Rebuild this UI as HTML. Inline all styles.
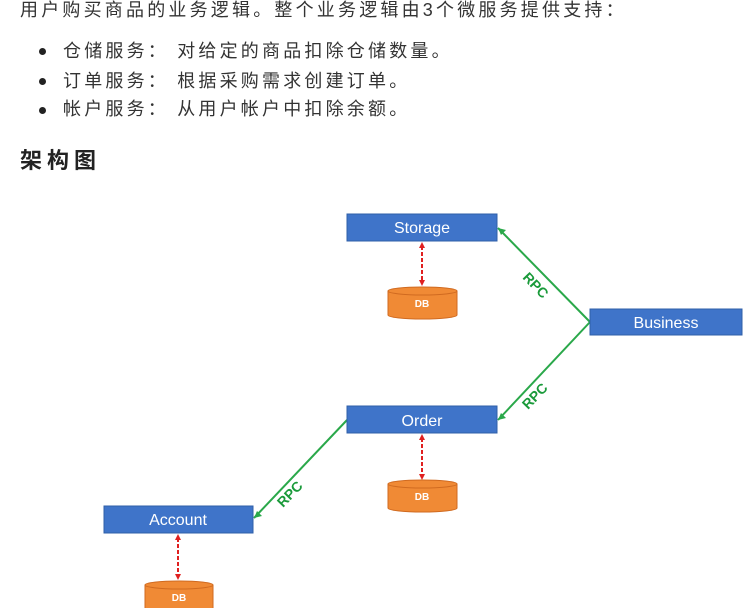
<!DOCTYPE html>
<html><head><meta charset="utf-8"><style>
body{margin:0;width:745px;height:608px;background:#fff;overflow:hidden;position:relative;font-family:"Liberation Sans","Noto Sans CJK SC",sans-serif;color:#333}
.t{position:absolute;font-size:18px;letter-spacing:3.2px;white-space:nowrap;line-height:20px}
.b{position:absolute;width:7px;height:7px;border-radius:50%;background:#222}
</style></head><body>
<div class="t" style="left:20px;top:0px">用户购买商品的业务逻辑。整个业务逻辑由3个微服务提供支持：</div>
<div class="b" style="left:39px;top:48px"></div><div class="t" style="left:63px;top:41px">仓储服务： 对给定的商品扣除仓储数量。</div>
<div class="b" style="left:39px;top:78px"></div><div class="t" style="left:63px;top:71px">订单服务： 根据采购需求创建订单。</div>
<div class="b" style="left:39px;top:107px"></div><div class="t" style="left:63px;top:99px">帐户服务： 从用户帐户中扣除余额。</div>
<div class="t" style="left:20px;top:148px;font-size:22px;letter-spacing:5px;font-weight:bold;color:#222;line-height:26px">架构图</div>
<svg width="745" height="608" style="position:absolute;left:0;top:0" font-family="Liberation Sans, sans-serif">
<g stroke="#2aa84a" stroke-width="2" fill="none">
<line x1="498" y1="228" x2="590" y2="322"/>
<line x1="590" y1="322" x2="498" y2="420"/>
<line x1="347" y1="420" x2="254" y2="518"/>
</g>
<g fill="#2aa84a">
<polygon points="498,228 506,230 501,235"/>
<polygon points="498,420 501,413 506,418"/>
<polygon points="254,518 257,511 262,516"/>
</g>
<g fill="#1a9a3a" font-size="14" font-weight="bold">
<text transform="translate(522,278) rotate(46)">RPC</text>
<text transform="translate(528,410) rotate(-46)">RPC</text>
<text transform="translate(283,508) rotate(-46)">RPC</text>
</g>
<g fill="#3f74c9" stroke="#2f5fa8">
<rect x="347" y="214" width="150" height="27"/>
<rect x="590" y="309" width="152" height="26"/>
<rect x="347" y="406" width="150" height="27"/>
<rect x="104" y="506" width="149" height="27"/>
</g>
<g fill="#fff" font-size="16" text-anchor="middle">
<text x="422" y="233">Storage</text>
<text x="666" y="328">Business</text>
<text x="422" y="426">Order</text>
<text x="178" y="525">Account</text>
</g>
<g stroke="#e02020" stroke-width="2" stroke-dasharray="4,2">
<line x1="422" y1="246" x2="422" y2="283"/>
<line x1="422" y1="438" x2="422" y2="477"/>
<line x1="178" y1="538" x2="178" y2="577"/>
</g>
<g fill="#e02020">
<polygon points="422,242 419,248 425,248"/><polygon points="422,286 419,280 425,280"/>
<polygon points="422,434 419,440 425,440"/><polygon points="422,480 419,474 425,474"/>
<polygon points="178,534 175,540 181,540"/><polygon points="178,580 175,574 181,574"/>
</g>
<g fill="#f08a35" stroke="#d06a20">
<path d="M388,291 v24 a34,4 0 0 0 69,0 v-24 z"/><ellipse cx="422.5" cy="291" rx="34.5" ry="4"/>
<path d="M388,484 v24 a34,4 0 0 0 69,0 v-24 z"/><ellipse cx="422.5" cy="484" rx="34.5" ry="4"/>
<path d="M145,585 v24 a34,4 0 0 0 68,0 v-24 z"/><ellipse cx="179" cy="585" rx="34" ry="4"/>
</g>
<g fill="#fff" font-size="10" font-weight="bold" text-anchor="middle">
<text x="422" y="307">DB</text><text x="422" y="500">DB</text><text x="179" y="601">DB</text>
</g>
</svg>
</body></html>
